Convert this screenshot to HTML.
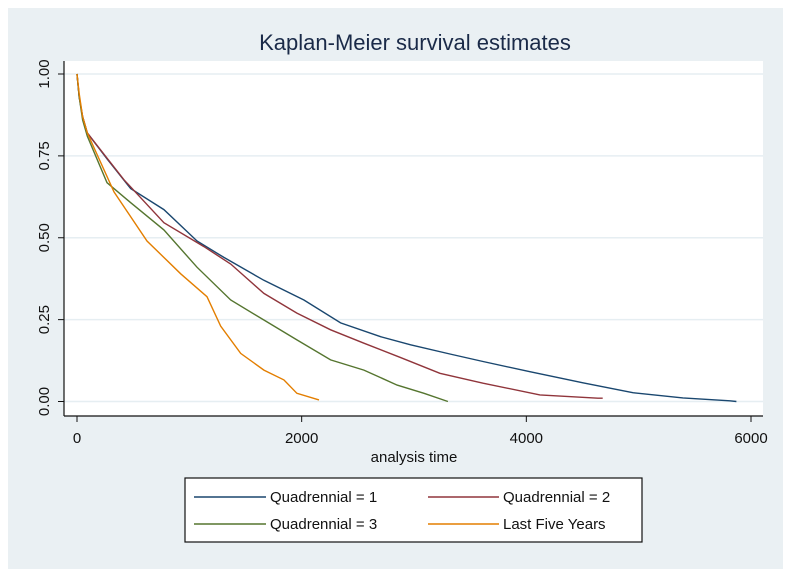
<!DOCTYPE html>
<html><head><meta charset="utf-8"><style>
body{margin:0;background:#fff;}
svg{display:block;font-family:"Liberation Sans",sans-serif;}
</style></head><body>
<svg id="chart" width="787" height="576" viewBox="0 0 787 576">
<rect x="8" y="8" width="775" height="561" fill="#eaf0f3"/>
<rect x="64" y="61" width="699" height="355" fill="#ffffff"/>
<text x="415" y="50" text-anchor="middle" font-size="22" fill="#1a2a48">Kaplan-Meier survival estimates</text>
<g id="grid"></g><g id="axes"></g><g id="series"></g>
<text x="414" y="462" text-anchor="middle" font-size="15" fill="#111">analysis time</text>
<g>
<rect x="185" y="478" width="457" height="64" fill="#fff" stroke="#111" stroke-width="1.2"/>
<line x1="194" y1="497" x2="266" y2="497" stroke="#1a476f" stroke-width="1.5"/>
<text x="270" y="502" font-size="15" fill="#111">Quadrennial = 1</text>
<line x1="428" y1="497" x2="499" y2="497" stroke="#90353b" stroke-width="1.5"/>
<text x="503" y="502" font-size="15" fill="#111">Quadrennial = 2</text>
<line x1="194" y1="524" x2="266" y2="524" stroke="#55752f" stroke-width="1.5"/>
<text x="270" y="529" font-size="15" fill="#111">Quadrennial = 3</text>
<line x1="428" y1="524" x2="499" y2="524" stroke="#e37e00" stroke-width="1.5"/>
<text x="503" y="529" font-size="15" fill="#111">Last Five Years</text>
</g>
</svg>
<script>
const xTicks=[0,2000,4000,6000];
const yTicks=[0,0.25,0.5,0.75,1];
const yTickLabels=["0.00","0.25","0.50","0.75","1.00"];
const q1T=[0,20,50,92,270,478,774,1068,1308,1664,2020,2347,2703,2970,3320,3614,4032,4504,4949,5394,5812,5870];
const q1S=[1,0.93,0.87,0.82,0.74,0.65,0.586,0.49,0.44,0.37,0.31,0.24,0.198,0.173,0.145,0.122,0.091,0.057,0.027,0.011,0.002,0];
const q2T=[0,20,50,92,418,774,1130,1368,1664,1958,2258,2554,2875,3231,3614,4121,4637,4680];
const q2S=[1,0.93,0.87,0.82,0.677,0.546,0.473,0.42,0.33,0.27,0.219,0.178,0.135,0.086,0.056,0.02,0.01,0.01];
const q3T=[0,20,50,92,267,478,774,1068,1368,1664,1958,2258,2554,2850,3089,3302];
const q3S=[1,0.93,0.86,0.81,0.668,0.607,0.524,0.41,0.31,0.249,0.188,0.127,0.096,0.05,0.025,0];
const l5T=[0,20,50,92,329,623,923,1157,1279,1457,1664,1842,1958,2154];
const l5S=[1,0.94,0.87,0.82,0.64,0.49,0.39,0.32,0.23,0.147,0.096,0.066,0.025,0.005];
const NS="http://www.w3.org/2000/svg";
const xs=t=>77+t*(674/6000);
const ys=s=>401.5-s*327.5;
function mk(tag,attrs,parent){const e=document.createElementNS(NS,tag);for(const k in attrs)e.setAttribute(k,attrs[k]);parent.appendChild(e);return e;}
const grid=document.getElementById('grid'),axes=document.getElementById('axes'),series=document.getElementById('series');
yTicks.forEach((v,i)=>{
 const g=mk('line',{x1:64,x2:763,y1:ys(v),y2:ys(v),stroke:'#e6eef2','stroke-width':1.5},grid);
 
 
 const t=mk('line',{x1:58,x2:64,y1:ys(v),y2:ys(v),stroke:'#111'},axes);
 
 
 const l=mk('text',{x:0,y:0,transform:`translate(49,${ys(v)}) rotate(-90)`,'text-anchor':'middle','font-size':15,fill:'#111'},axes);
 l.textContent=yTickLabels[i];
 
 
});
const ya=mk('line',{x1:64,x2:64,y1:61,y2:416,stroke:'#111','stroke-width':1.2},axes);


const xa=mk('line',{x1:64,x2:763,y1:416,y2:416,stroke:'#111','stroke-width':1.2},axes);


xTicks.forEach(v=>{
 const t=mk('line',{x1:xs(v),x2:xs(v),y1:416,y2:422,stroke:'#111'},axes);
 
 
 const l=mk('text',{x:xs(v),y:443,'text-anchor':'middle','font-size':15,fill:'#111'},axes);
 l.textContent=v;
 
 
});
function draw(T,S,color,name){
 const p=T.map((t,i)=>xs(t).toFixed(1)+','+ys(S[i]).toFixed(1)).join(' ');
 const e=mk('polyline',{points:p,fill:'none',stroke:color,'stroke-width':1.4},series);
 
 
}
draw(q1T,q1S,'#1a476f','series-quadrennial-1');
draw(q2T,q2S,'#90353b','series-quadrennial-2');
draw(q3T,q3S,'#55752f','series-quadrennial-3');
draw(l5T,l5S,'#e37e00','series-last-five-years');
</script>
</body></html>
